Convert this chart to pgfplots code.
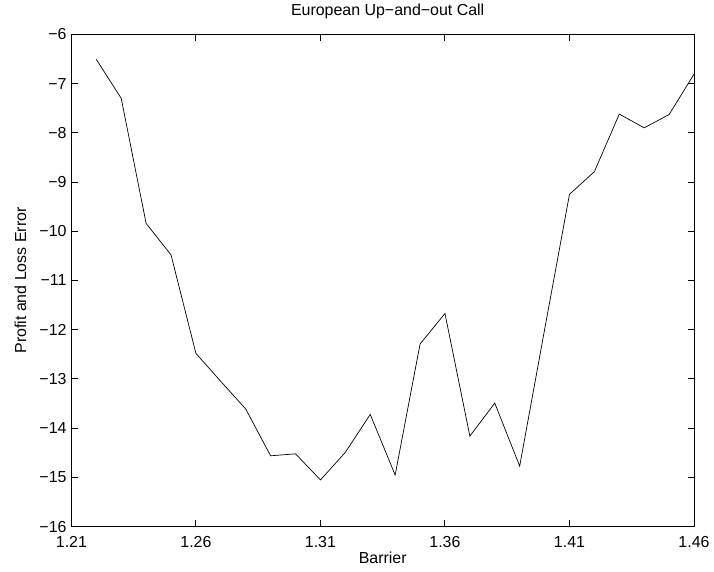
\documentclass[border=0pt]{standalone}
\usepackage{pgfplots}
\pgfplotsset{compat=1.18}
\usepackage{fontspec}
\setmainfont{Liberation Sans}
\newcommand{\lblfont}{\fontsize{16}{18}\selectfont}

\pgfplotstableread{
x y
1.22 -6.51
1.23 -7.30
1.24 -9.84
1.25 -10.48
1.26 -12.48
1.27 -13.05
1.28 -13.61
1.29 -14.56
1.30 -14.52
1.31 -15.05
1.32 -14.49
1.33 -13.72
1.34 -14.95
1.35 -12.29
1.36 -11.67
1.37 -14.16
1.38 -13.49
1.39 -14.77
1.40 -12.00
1.41 -9.25
1.42 -8.79
1.43 -7.62
1.44 -7.90
1.45 -7.63
1.46 -6.81
}\pnl

\begin{document}
\begin{tikzpicture}
\useasboundingbox (0,0) rectangle (714bp,572bp);
\begin{axis}[
  at={(71.4bp,45.3bp)}, anchor=south west,
  scale only axis,
  width=622.6bp, height=492.4bp,
  xmin=1.21, xmax=1.46,
  ymin=-16, ymax=-6,
  xtick={1.21,1.26,1.31,1.36,1.41,1.46},
  xticklabels={1.21,1.26,1.31,1.36,1.41,1.46},
  ytick={-16,-15,-14,-13,-12,-11,-10,-9,-8,-7,-6},
  yticklabels={−16,−15,−14,−13,−12,−11,−10,−9,−8,−7,−6},
  tick align=inside,
  major tick length=6.3bp,
  axis line style={line width=1bp},
  every tick/.style={black, line width=1bp},
  xticklabel style={font=\lblfont, anchor=north, inner sep=0pt, yshift=-9.3bp},
  yticklabel style={font=\lblfont, anchor=east, inner sep=0pt, xshift=-4.7bp},
  title={European Up−and−out Call},
  title style={font=\lblfont, at={(axis description cs:0.508,1.027)}, anchor=base, inner sep=0pt},
  xlabel={Barrier},
  xlabel style={font=\lblfont, at={(axis description cs:0.5,-0.0743)}, anchor=base, inner sep=0pt},
  ylabel={Profit and Loss Error},
  ylabel style={font=\lblfont, at={(axis description cs:-0.0729,0.5)}, anchor=base, inner sep=0pt, rotate=0},
]
\addplot[black, line width=0.7bp, mark=none] table[x=x, y=y] {\pnl};
\end{axis}
\end{tikzpicture}
\end{document}
